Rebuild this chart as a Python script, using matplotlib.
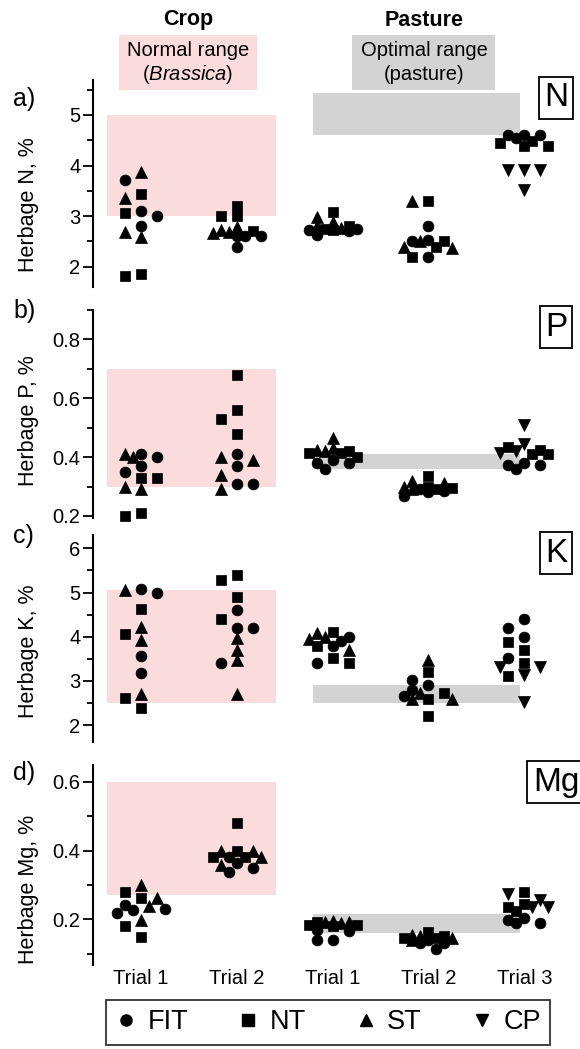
import numpy as np
import matplotlib.pyplot as plt
from matplotlib.patches import Rectangle
from matplotlib.lines import Line2D
from matplotlib.ticker import MultipleLocator, FormatStrFormatter

plt.rcParams['font.family'] = ['Liberation Sans', 'DejaVu Sans']
plt.rcParams['mathtext.fontset'] = 'custom'
plt.rcParams['mathtext.rm'] = 'Liberation Sans'
plt.rcParams['mathtext.it'] = 'Liberation Sans:italic'

# x groups: crop trial 1-2, pasture trial 1-3
trials = ['Trial 1', 'Trial 2', 'Trial 1', 'Trial 2', 'Trial 3']
treatments = ['FIT', 'NT', 'ST', 'CP']
elements = ['N', 'P', 'K', 'Mg']

# herbage concentration, %, per group
N_FIT = [[3.72, 3.11, 3.01, 2.81], [2.60, 2.60, 2.60, 2.40], [2.75, 2.73, 2.70, 2.62], [2.81, 2.52, 2.50, 2.20], [4.61, 4.61, 4.61, 4.55]]
N_NT = [[3.44, 3.07, 1.86, 1.81], [3.20, 3.00, 3.00, 2.70], [3.09, 2.81, 2.75, 2.72], [3.29, 2.50, 2.40, 2.20], [4.49, 4.45, 4.39, 4.39]]
N_ST = [[3.88, 3.36, 2.68, 2.59], [2.78, 2.72, 2.68, 2.66], [2.99, 2.88, 2.80, 2.76], [3.29, 2.50, 2.40, 2.37], []]
N_CP = [[], [], [], [], [3.91, 3.91, 3.91, 3.52]]

P_FIT = [[0.41, 0.40, 0.37, 0.35], [0.41, 0.37, 0.31, 0.31], [0.39, 0.38, 0.38, 0.36], [0.29, 0.285, 0.28, 0.267], [0.38, 0.374, 0.372, 0.36]]
P_NT = [[0.33, 0.33, 0.21, 0.20], [0.68, 0.56, 0.53, 0.48], [0.42, 0.414, 0.414, 0.40], [0.335, 0.30, 0.295, 0.29], [0.436, 0.425, 0.41, 0.41]]
P_ST = [[0.41, 0.40, 0.30, 0.29], [0.40, 0.39, 0.34, 0.29], [0.464, 0.43, 0.425, 0.42], [0.318, 0.312, 0.30, 0.29], []]
P_CP = [[], [], [], [], [0.51, 0.445, 0.42, 0.413]]

K_FIT = [[5.09, 5.00, 3.56, 3.17], [4.60, 4.20, 4.20, 3.40], [4.00, 3.91, 3.79, 3.41], [3.02, 2.91, 2.79, 2.65], [4.40, 4.20, 4.00, 3.51]]
K_NT = [[4.62, 4.06, 2.62, 2.39], [5.40, 5.28, 4.89, 4.39], [4.11, 3.79, 3.51, 3.41], [3.21, 2.72, 2.60, 2.20], [3.89, 3.70, 3.40, 3.11]]
K_ST = [[5.06, 4.23, 3.92, 2.70], [3.98, 3.70, 3.47, 2.70], [4.08, 4.00, 3.96, 3.70], [3.47, 2.72, 2.60, 2.60], []]
K_CP = [[], [], [], [], [3.32, 3.32, 3.13, 2.53]]

Mg_FIT = [[0.241, 0.229, 0.227, 0.217], [0.38, 0.363, 0.348, 0.338], [0.17, 0.165, 0.14, 0.14], [0.14, 0.13, 0.13, 0.115], [0.203, 0.198, 0.188, 0.188]]
Mg_NT = [[0.28, 0.261, 0.18, 0.149], [0.481, 0.40, 0.38, 0.38], [0.193, 0.183, 0.183, 0.18], [0.164, 0.15, 0.147, 0.145], [0.28, 0.245, 0.237, 0.225]]
Mg_ST = [[0.30, 0.261, 0.239, 0.198], [0.40, 0.398, 0.38, 0.358], [0.195, 0.193, 0.193, 0.19], [0.155, 0.15, 0.145, 0.14], []]
Mg_CP = [[], [], [], [], [0.275, 0.256, 0.237, 0.237]]

# reference ranges
crop_lo = [3.0, 0.30, 2.50, 0.27]
crop_hi = [5.0, 0.70, 5.05, 0.60]
past_lo = [4.60, 0.36, 2.50, 0.16]
past_hi = [5.43, 0.41, 2.90, 0.215]

data = {
    'N': [N_FIT, N_NT, N_ST, N_CP],
    'P': [P_FIT, P_NT, P_ST, P_CP],
    'K': [K_FIT, K_NT, K_ST, K_CP],
    'Mg': [Mg_FIT, Mg_NT, Mg_ST, Mg_CP],
}
ylabels = ['Herbage N, %', 'Herbage P, %', 'Herbage K, %', 'Herbage Mg, %']
ylims = [(1.6, 5.69), (0.193, 0.90), (1.62, 6.3), (0.067, 0.649)]
majors = [1, 0.2, 1, 0.2]
panel_tags = ['a)', 'b)', 'c)', 'd)']

markers = {'FIT': ('o', 7.8), 'NT': ('s', 7.2), 'ST': ('^', 8.3), 'CP': ('v', 8.3)}
pink = '#fbdcdc'
grey = '#d3d3d3'

W, H = 580, 1049
fig = plt.figure(figsize=(W / 100, H / 100), dpi=100)

# axes boxes in pixels (top, bottom)
boxes = [(80, 287), (310, 518), (535, 742), (765, 965)]
left_px, right_px = 93, 578
step = 0.167


def swarm(ax, xc, vals, diam=9.5):
    # simple beeswarm, values placed from top to bottom
    vals = np.asarray(vals, dtype=float)
    ypx = ax.transData.transform(np.column_stack([np.full(len(vals), xc), vals]))[:, 1]
    ppu = ax.transData.transform((1, 0))[0] - ax.transData.transform((0, 0))[0]
    cand = [0, -1, 1, -0.5, 0.5, -1.5, 1.5]
    offs = np.zeros(len(vals))
    placed = []
    for i in np.argsort(-vals, kind='stable'):
        best, best_d = 0, -1
        for c in cand:
            dx = c * step * ppu
            d = min([np.hypot(dx - px, ypx[i] - py) for px, py in placed], default=1e9)
            if d >= diam:
                best = c
                break
            if d > best_d:
                best_d, best = d, c
        offs[i] = best * step
        placed.append((best * step * ppu, ypx[i]))
    return offs


for k, el in enumerate(elements):
    top, bot = boxes[k]
    ax = fig.add_axes([left_px / W, 1 - bot / H, (right_px - left_px) / W, (bot - top) / H])
    ax.set_xlim(0.5, 5.56)
    ax.set_ylim(*ylims[k])
    for s in ['top', 'right', 'bottom']:
        ax.spines[s].set_visible(False)
    ax.spines['left'].set_linewidth(1.5)
    ax.yaxis.set_major_locator(MultipleLocator(majors[k]))
    ax.yaxis.set_minor_locator(MultipleLocator(majors[k] / 2))
    ax.yaxis.set_major_formatter(FormatStrFormatter('%g'))
    ax.tick_params(axis='y', which='major', length=7, width=1.3, labelsize=14.5, pad=2)
    ax.tick_params(axis='y', which='minor', length=4, width=1.3)
    ax.set_ylabel(ylabels[k], fontsize=15.5)
    ax.yaxis.set_label_coords(-0.112, [0.40, 0.47, 0.44, 0.38][k])

    ax.add_patch(Rectangle((0.645, crop_lo[k]), 2.41 - 0.645, crop_hi[k] - crop_lo[k],
                           fc=pink, ec='none', zorder=0))
    ax.add_patch(Rectangle((2.80, past_lo[k]), 4.95 - 2.80, past_hi[k] - past_lo[k],
                           fc=grey, ec='none', zorder=0))

    series = data[el]
    for g in range(5):
        vals, kinds = [], []
        for t, tr in enumerate(treatments):
            vals += series[t][g]
            kinds += [tr] * len(series[t][g])
        offs = swarm(ax, g + 1, vals)
        for tr in treatments:
            idx = [i for i, kk in enumerate(kinds) if kk == tr]
            if not idx:
                continue
            m, ms = markers[tr]
            ax.plot(g + 1 + offs[idx], np.array(vals)[idx], ls='none', marker=m, ms=ms,
                    mfc='black', mec='black', mew=0.5, zorder=3, clip_on=False)

    if k == 3:
        ax.set_xticks(range(1, 6))
        ax.set_xticklabels(trials, fontsize=14.5)
        ax.tick_params(axis='x', length=0, pad=3)
    else:
        ax.set_xticks([])

    fig.text(13 / W, 1 - [99, 311, 536, 773][k] / H, panel_tags[k], fontsize=18,
             ha='left', va='center')
    fig.text(556 / W, 1 - [98, 327, 553, 782][k] / H, el, fontsize=24, ha='center', va='center',
             bbox=dict(boxstyle='square,pad=0.16', fc='white', ec='black', lw=1.3))

# column headers
fig.patches.append(Rectangle((119 / W, 1 - 90 / H), 138 / W, 55 / H, transform=fig.transFigure,
                             fc=pink, ec='none'))
fig.patches.append(Rectangle((352 / W, 1 - 90 / H), 143 / W, 55 / H, transform=fig.transFigure,
                             fc=grey, ec='none'))
fig.text(188 / W, 1 - 20 / H, 'Crop', fontsize=15.5, fontweight='bold', ha='center', va='center')
fig.text(424 / W, 1 - 20 / H, 'Pasture', fontsize=15.5, fontweight='bold', ha='center', va='center')
fig.text(188 / W, 1 - 51 / H, 'Normal range', fontsize=14.5, ha='center', va='center')
fig.text(188 / W, 1 - 75 / H, r'($\mathit{Brassica}$)', fontsize=14.5, ha='center', va='center')
fig.text(424 / W, 1 - 51 / H, 'Optimal range', fontsize=14.5, ha='center', va='center')
fig.text(424 / W, 1 - 75 / H, '(pasture)', fontsize=14.5, ha='center', va='center')

handles = [Line2D([], [], ls='none', marker=markers[t][0], ms=8, color='black') for t in treatments]
leg = fig.legend(handles, treatments, ncol=4, loc='upper center', bbox_to_anchor=(328 / W, 1 - 1000 / H),
                 fontsize=19.5, frameon=True, fancybox=False, edgecolor='black', handlelength=0.8,
                 handletextpad=0.4, columnspacing=1.8, borderpad=0.35, borderaxespad=0)
leg.get_frame().set_linewidth(1.3)

fig.savefig('out.png', dpi=100)
